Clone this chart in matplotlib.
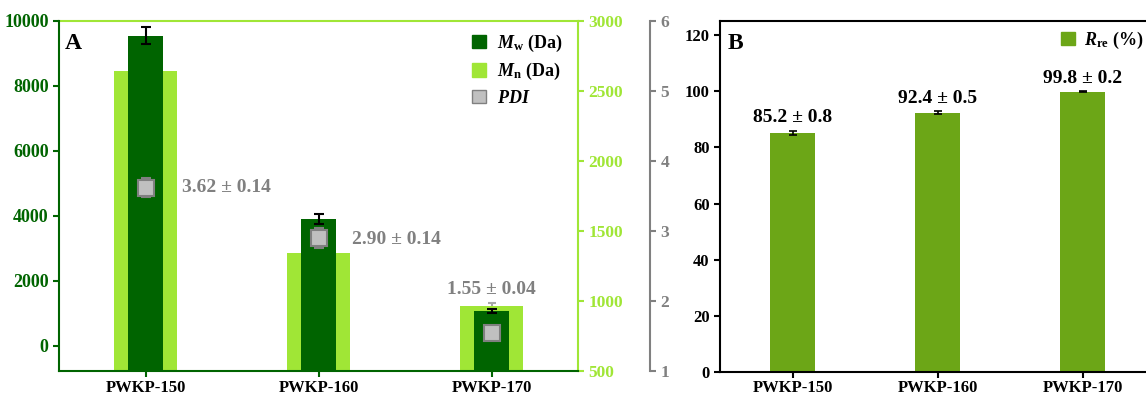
import matplotlib
matplotlib.use("Agg")
import matplotlib.pyplot as plt
from matplotlib.patches import Patch
import numpy as np

plt.rcParams['font.family'] = ['Liberation Serif', 'DejaVu Serif']
plt.rcParams['font.weight'] = 'bold'
plt.rcParams['mathtext.fontset'] = 'custom'
plt.rcParams['mathtext.it'] = 'Liberation Serif:italic:bold'
plt.rcParams['mathtext.rm'] = 'Liberation Serif:bold'
plt.rcParams['mathtext.bf'] = 'Liberation Serif:bold'

# ---- data ----
samples = ['PWKP-150', 'PWKP-160', 'PWKP-170']
mw = [9550, 3900, 1080]
mw_err = [250, 150, 60]
mn = [2640, 1340, 965]
mn_err = [20, 20, 20]
pdi = [3.62, 2.90, 1.55]
pdi_err = [0.14, 0.14, 0.04]
pdi_labels = ['3.62 ± 0.14', '2.90 ± 0.14', '1.55 ± 0.04']
rre = [85.2, 92.4, 99.8]
rre_err = [0.8, 0.5, 0.2]
rre_labels = ['85.2 ± 0.8', '92.4 ± 0.5', '99.8 ± 0.2']

DG = '#006400'
LG = '#A0E636'
GR = '#808080'
GF = '#C0C0C0'
BG = '#6CA617'

fig = plt.figure(figsize=(11.46, 3.96), dpi=100)
x = np.arange(len(samples))

# ---------------- Panel A ----------------
ax = fig.add_axes([0.0515, 0.0631, 0.4529, 0.8839])
ax2 = ax.twinx()
ax3 = ax.twinx()
ax2.set_zorder(1)
ax.set_zorder(2)
ax3.set_zorder(3)
ax.patch.set_visible(False)
ax3.patch.set_visible(False)
ax2.patch.set_facecolor('white')

ymin_a = -770
ax2.bar(x, np.array(mn) - 500, bottom=500, width=0.36, color=LG, zorder=2)
ax2.errorbar(x, mn, yerr=mn_err, fmt='none', ecolor='#A8A8A8', elinewidth=1.5, capsize=3, capthick=1.5, zorder=1)
ax.bar(x, np.array(mw) - ymin_a, bottom=ymin_a, width=0.2, color=DG, zorder=2)
ax.errorbar(x, mw, yerr=mw_err, fmt='none', ecolor='black', elinewidth=1.5, capsize=3.5, capthick=1.5, zorder=3)
ax3.errorbar(x, pdi, yerr=pdi_err, fmt='none', ecolor=GR, elinewidth=1.5, capsize=3.5, capthick=1.5, zorder=2)
ax3.plot(x, pdi, 's', ms=11, mfc=GF, mec=GR, mew=1.5, ls='none', zorder=3)

ax.set_xlim(-0.5, 2.5)
ax.set_ylim(ymin_a, 10000)
ax2.set_ylim(500, 3000)
ax3.set_ylim(1, 6)
ax.set_yticks([0, 2000, 4000, 6000, 8000, 10000])
ax2.set_yticks([500, 1000, 1500, 2000, 2500, 3000])
ax3.set_yticks([1, 2, 3, 4, 5, 6])
ax.set_xticks(x)
ax.set_xticklabels(samples, fontsize=12, fontweight='bold', color='black')

for a in (ax, ax2, ax3):
    for s in a.spines.values():
        s.set_visible(False)
        s.set_linewidth(1.5)
ax.spines['left'].set_visible(True); ax.spines['left'].set_color(DG)
ax.spines['bottom'].set_visible(True); ax.spines['bottom'].set_color(DG)
ax2.spines['right'].set_visible(True); ax2.spines['right'].set_color(LG)
ax2.spines['top'].set_visible(True); ax2.spines['top'].set_color(LG)
ax3.spines['right'].set_visible(True); ax3.spines['right'].set_color(GR)
ax3.spines['right'].set_position(('outward', 52))

ax.tick_params(axis='y', colors=DG, labelsize=13, width=1.5, length=4, direction='out')
ax.tick_params(axis='x', colors=DG, labelcolor='black', width=1.5, length=4, direction='out', pad=2.5)
ax2.tick_params(axis='y', colors=LG, labelsize=12.5, width=1.5, length=4, direction='out')
ax3.tick_params(axis='y', colors=GR, labelsize=12.5, width=1.5, length=4, direction='out')
for a in (ax, ax2, ax3):
    for lab in a.get_yticklabels():
        lab.set_fontweight('bold')

offs = [(26, 0), (24, -1), (0, 31)]
has = ['left', 'left', 'center']
for i in range(3):
    ax3.annotate(pdi_labels[i], (x[i], pdi[i]), xytext=offs[i], textcoords='offset points',
                 ha=has[i], va='center', fontsize=14, fontweight='bold', color=GR)

ax.text(0.012, 0.935, 'A', transform=ax.transAxes, fontsize=17, fontweight='bold', va='center', ha='left')

handles = [Patch(facecolor=DG, edgecolor=DG),
           Patch(facecolor=LG, edgecolor=LG),
           Patch(facecolor=GF, edgecolor=GR, linewidth=1)]
labels = [r'$M_\mathrm{w}$ (Da)', r'$M_\mathrm{n}$ (Da)', r'$PDI$']
ax3.legend(handles, labels, loc='upper right', bbox_to_anchor=(0.497, 0.935),
           bbox_transform=fig.transFigure, frameon=False, fontsize=13,
           handlelength=0.75, handleheight=0.75, handletextpad=0.6, labelspacing=0.4,
           borderaxespad=0)

# ---------------- Panel B ----------------
bx = fig.add_axes([0.6283, 0.0606, 0.3800, 0.8864])
bx.bar(x, rre, width=0.31, color=BG)
bx.errorbar(x, rre, yerr=rre_err, fmt='none', ecolor='black', elinewidth=1.2, capsize=3, capthick=1.2)
bx.set_xlim(-0.5, 2.5)
bx.set_ylim(0, 125)
bx.set_yticks([0, 20, 40, 60, 80, 100, 120])
bx.set_xticks(x)
bx.set_xticklabels(samples, fontsize=12, fontweight='bold')
for lab in bx.get_yticklabels():
    lab.set_fontweight('bold')
bx.tick_params(axis='both', labelsize=12, width=1.5, length=4, direction='out', colors='black')
bx.tick_params(axis='x', pad=2)
for s in bx.spines.values():
    s.set_linewidth(1.5)
    s.set_color('black')
for i in range(3):
    bx.annotate(rre_labels[i], (x[i], rre[i] + rre_err[i]), xytext=(0, 6), textcoords='offset points',
                ha='center', va='baseline', fontsize=14, fontweight='bold', color='black')
bx.text(0.018, 0.935, 'B', transform=bx.transAxes, fontsize=17, fontweight='bold', va='center', ha='left')
bx.legend([Patch(facecolor=BG, edgecolor=BG)], [r'$R_\mathrm{re}$ (%)'], loc='upper right',
          bbox_to_anchor=(0.999, 0.93), bbox_transform=fig.transFigure, frameon=False, fontsize=13,
          handlelength=0.75, handleheight=0.75, handletextpad=0.5, borderaxespad=0, borderpad=0.1)

fig.savefig('out.png', dpi=100)
